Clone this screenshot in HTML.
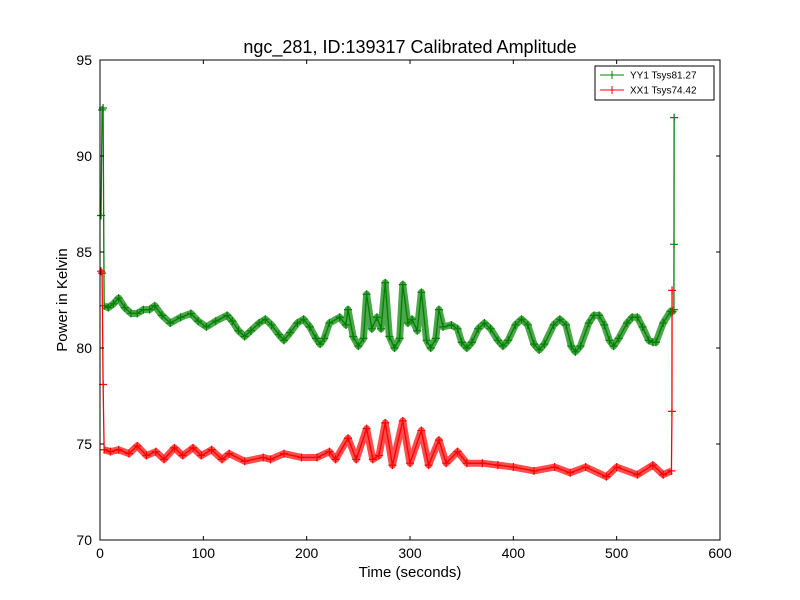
<!DOCTYPE html>
<html><head><meta charset="utf-8"><style>
body{margin:0;background:#fff;}
svg{display:block;font-family:"Liberation Sans","DejaVu Sans",sans-serif;}
</style></head><body>
<svg id="chart" width="800" height="600">
<rect width="800" height="600" fill="#fff"/>
<text x="410" y="53" font-size="18" text-anchor="middle">ngc_281, ID:139317 Calibrated Amplitude</text>
<text x="410" y="577" font-size="15" text-anchor="middle">Time (seconds)</text>
<text x="67" y="300" font-size="15" text-anchor="middle" transform="rotate(-90 67 300)">Power in Kelvin</text>
<g id="series"></g>
<g id="axes"></g>
<g>
<rect x="595" y="66" width="119" height="34" fill="#fff" stroke="#000" stroke-width="1"/>
<line x1="600" y1="75" x2="624" y2="75" stroke="green"/><line x1="612" y1="71" x2="612" y2="79" stroke="green"/>
<text x="630" y="78.5" font-size="10">YY1 Tsys81.27</text>
<line x1="600" y1="90" x2="624" y2="90" stroke="red"/><line x1="612" y1="86" x2="612" y2="94" stroke="red"/>
<text x="630" y="93.5" font-size="10">XX1 Tsys74.42</text>
</g>
</svg>
<script>
const xTicks=[0,100,200,300,400,500,600];
const yTicks=[70,75,80,85,90,95];
const yyT=[1,2,3,4,8,13,18,24,30,36,42,48,53,60,68,78,88,95,103,112,123,128,134,140,146,154,160,166,173,178,184,191,197,203,209,213,217,222,232,238,240,245,250,255,258,263,268,272,276,280,285,290,293,298,302,307,311,316,320,325,328,332,340,346,350,355,360,366,372,378,385,390,395,402,408,414,420,425,430,439,445,451,456,460,465,473,478,483,488,493,497,502,510,515,520,525,531,535,538,545,552,554,555.4,555.5,555.6];
const yyV=[86.9,92.4,92.5,82.2,82.1,82.3,82.6,82.1,81.8,81.8,82.0,82.0,82.2,81.7,81.3,81.6,81.8,81.4,81.1,81.4,81.7,81.4,80.9,80.6,80.9,81.3,81.5,81.2,80.7,80.4,80.8,81.3,81.5,81.1,80.5,80.2,80.5,81.3,81.6,81.2,82.0,80.6,80.1,80.5,82.8,81.0,81.6,81.0,83.4,80.6,80.0,80.5,83.3,81.3,81.5,80.9,82.9,80.4,80.0,80.5,82.0,81.1,81.2,81.0,80.3,80.0,80.3,81.0,81.3,81.0,80.4,80.1,80.4,81.2,81.5,81.2,80.2,79.9,80.2,81.2,81.5,81.2,80.1,79.8,80.1,81.3,81.7,81.7,81.2,80.4,80.1,80.5,81.3,81.6,81.6,81.1,80.4,80.3,80.3,81.3,81.9,81.9,82.0,85.4,92.0];
const xxT=[1,2,3,4,10,18,28,36,45,54,62,72,80,90,98,108,118,125,140,158,165,178,195,210,222,228,240,248,258,264,270,276,283,293,300,311,318,328,335,346,355,370,385,400,420,440,455,470,490,500,520,535,545,553,553.5,553.6];
const xxV=[84.0,83.9,78.1,74.7,74.6,74.7,74.5,74.9,74.4,74.6,74.2,74.8,74.4,74.8,74.4,74.7,74.2,74.5,74.1,74.3,74.2,74.5,74.3,74.3,74.6,74.2,75.3,74.2,75.8,74.2,74.4,76.1,73.9,76.2,74.0,75.7,73.9,75.2,74.0,74.6,74.0,74.0,73.9,73.8,73.6,73.8,73.5,73.8,73.3,73.8,73.4,73.9,73.4,73.6,76.7,83.0];
const X0=100,X1=720,Y0=540,Y1=60;
const sx=v=>X0+(v-0)/600*(X1-X0);
const sy=v=>Y0-(v-70)/25*(Y0-Y1);
const NS="http://www.w3.org/2000/svg";
function mk(tag,attrs,parent){const e=document.createElementNS(NS,tag);for(const k in attrs)e.setAttribute(k,attrs[k]);parent.appendChild(e);return e;}
const S=document.getElementById('series');
function series(ts,vs,color,name,endTrim){
  const g=mk('g',{},S);
  
  
  const all=ts.map((t,i)=>sx(t)+','+sy(vs[i]));
  const bandPts=all.slice(3,all.length-endTrim).join(' ');
  const band=mk('polyline',{points:bandPts,fill:'none',stroke:color,'stroke-width':7,'stroke-opacity':0.7,'stroke-linejoin':'round'},g);
  
  
  const pl=mk('polyline',{points:all.join(' '),fill:'none',stroke:color,'stroke-width':1.3,'stroke-linejoin':'round'},g);
  
  
  ts.forEach((t,i)=>{
    const x=sx(t),y=sy(vs[i]);
    const p=mk('path',{d:`M${x-4},${y}H${x+4}M${x},${y-4}V${y+4}`,stroke:color,'stroke-width':1.2},g);
    
    
  });
}
series(yyT,yyV,'green','yy1-series',2);
series(xxT,xxV,'red','xx1-series',2);
const A=document.getElementById('axes');
const fr=mk('rect',{x:X0,y:Y1,width:X1-X0,height:Y0-Y1,fill:'none',stroke:'#000','stroke-width':1},A);


xTicks.forEach(v=>{
  const x=sx(v);
  mk('line',{x1:x,y1:Y0,x2:x,y2:Y0-4,stroke:'#000'},A);
  mk('line',{x1:x,y1:Y1,x2:x,y2:Y1+4,stroke:'#000'},A);
  const t=mk('text',{x:x,y:Y0+18,'font-size':14,'text-anchor':'middle'},A);
  t.textContent=v;
  
  
});
yTicks.forEach(v=>{
  const y=sy(v);
  mk('line',{x1:X0,y1:y,x2:X0+4,y2:y,stroke:'#000'},A);
  mk('line',{x1:X1,y1:y,x2:X1-4,y2:y,stroke:'#000'},A);
  const t=mk('text',{x:X0-8,y:y+5,'font-size':14,'text-anchor':'end'},A);
  t.textContent=v;
  
  
});
</script>
</body></html>
